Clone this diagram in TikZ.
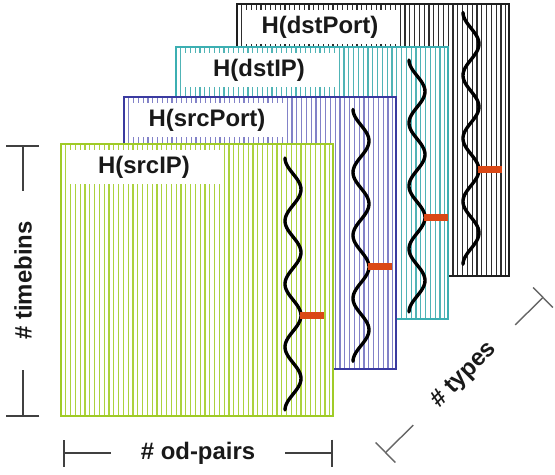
\documentclass[tikz,border=0pt]{standalone}
\usepackage{fontspec}
\setmainfont{Liberation Sans}
\usepackage{xcolor}
\usepackage{tikz}
\usetikzlibrary{arrows.meta, positioning}
\definecolor{srcipgreen}{RGB}{160,203,40}
\definecolor{srcipline}{RGB}{172,210,62}
\definecolor{srcportblue}{RGB}{58,58,160}
\definecolor{srcportline}{RGB}{130,130,200}
\definecolor{dstipcyan}{RGB}{60,175,178}
\definecolor{dstipline}{RGB}{80,180,182}
\definecolor{dstportblack}{RGB}{30,30,30}
\definecolor{dstportline}{RGB}{45,45,45}
\definecolor{markred}{RGB}{218,72,22}
\tikzstyle{layer}     = [line width=1.5pt]
\tikzstyle{hatch}     = [line width=0.8pt]
\tikzstyle{wave}      = [line width=2.4pt, black, line cap=round]
\tikzstyle{redmark}   = [line width=5pt, markred]
\tikzstyle{labelbox}  = [rectangle, fill=white, minimum width=3.8cm, minimum height=0.85cm, text=black!90,
                         font=\fontsize{17}{20}\selectfont\bfseries]
\tikzstyle{axislabel} = [inner xsep=0.75cm, text=black!90, font=\fontsize{17}{20}\selectfont\bfseries]
\tikzstyle{bracket}   = [line width=1.4pt, draw=black!75]

\begin{document}
\begin{tikzpicture}
    \useasboundingbox (0,0) rectangle (13.875,11.85);

    % layers, back to front
    \foreach \lx/\ly/\bc/\lc/\wx/\wy/\lab/\nm in {
        5.925/4.95/dstportblack/dstportline/5.85/6.59/H(dstPort)/dstport,
        4.4/3.875/dstipcyan/dstipline/6.025/6.475/H(dstIP)/dstip,
        3.1/2.625/srcportblue/srcportline/5.925/6.49/H(srcPort)/srcport,
        1.525/1.45/srcipgreen/srcipline/5.8/6.45/H(srcIP)/srcip} {
        \fill [white] (\lx,\ly) rectangle ++(6.8,6.8);
        \foreach \i in {1,...,56}
            \draw [hatch, \lc] (\lx+\i*0.12,\ly) -- ++(0,6.8);
        \node (\nm) at (\lx+2.075,\ly+6.225) [labelbox] {\lab};
        \draw [layer, \bc] (\lx,\ly) rectangle ++(6.8,6.8);
        \draw [wave] plot [domain=0:6.3, samples=120]
            ({\lx+\wx-0.2*cos(\x*360/1.575)}, {\ly+\wy-\x});
        \draw [redmark] (\lx+\wx+0.17,\ly+\wy-3.9375) -- ++(0.6,0);
    }

    % axes
    \node (timebins) at (0.575,4.8375) [axislabel, rotate=90] {\# timebins};
    \coordinate (tbtop) at (0.575,8.225);
    \coordinate (tbbot) at (0.575,1.425);
    \draw [bracket, {Bar[width=0.825cm]}-] (tbtop) -- (timebins);
    \draw [bracket, {Bar[width=0.825cm]}-] (tbbot) -- (timebins);

    \node (odpairs) at (4.95,0.525) [axislabel] {\# od-pairs};
    \coordinate (odleft)  at (1.575,0.525);
    \coordinate (odright) at (8.325,0.525);
    \draw [bracket, {Bar[width=0.675cm]}-] (odleft)  -- (odpairs);
    \draw [bracket, {Bar[width=0.675cm]}-] (odright) -- (odpairs);

    \node (types) at (11.606,2.475) [axislabel, rotate=45] {\# types};
    \coordinate (tylow)  at (9.625,0.525);
    \coordinate (tyhigh) at (13.5875,4.425);
    \draw [bracket, line width=1pt, draw=black!60, {Bar[width=0.7cm]}-] (tylow)  -- (types);
    \draw [bracket, line width=1pt, draw=black!60, {Bar[width=0.7cm]}-] (tyhigh) -- (types);
\end{tikzpicture}
\end{document}
